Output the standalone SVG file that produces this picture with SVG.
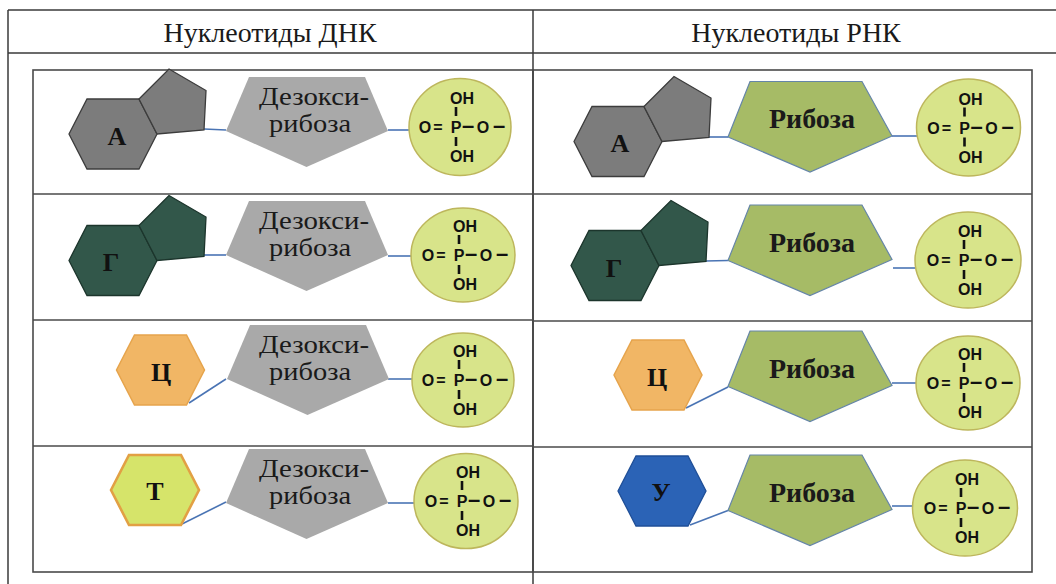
<svg xmlns="http://www.w3.org/2000/svg" width="1056" height="584" viewBox="0 0 1056 584">
<style>
  .grid { stroke: #3a3a3a; stroke-width: 1.5; fill: none; }
  .panel { stroke: #4a4a4a; stroke-width: 1.6; fill: none; }
  .hdr { font-family: "Liberation Serif", "Times New Roman", serif; font-size: 28px; fill: #1a1a1a; text-anchor: middle; }
  .base { font-family: "Liberation Serif", "Times New Roman", serif; font-size: 26px; font-weight: bold; fill: #111; text-anchor: middle; }
  .sug { font-family: "Liberation Serif", "Times New Roman", serif; font-size: 26px; fill: #1a1a1a; text-anchor: middle; }
  .rib { font-family: "Liberation Serif", "Times New Roman", serif; font-size: 28px; font-weight: bold; fill: #1a1a1a; text-anchor: middle; }
  .ph { font-family: "Liberation Sans", Arial, sans-serif; font-size: 16px; font-weight: bold; fill: #111; }
  .phm { text-anchor: middle; }
  .d { font-size: 22px; }
  .bond { stroke: #111; stroke-width: 2.6; }
  .pcirc { fill: #d8e48a; stroke: #bdb65c; stroke-width: 1.5; }
  .gray { fill: #7c7c7c; stroke: #3c3c3c; stroke-width: 1.3; }
  .green { fill: #32574a; stroke: #1c352c; stroke-width: 1.3; }
  .orange { fill: #f1b665; stroke: #e6a44c; stroke-width: 1.5; }
  .thy { fill: #d6e46a; stroke: #e2a044; stroke-width: 2.6; }
  .blue { fill: #2b63b6; stroke: #1f4f98; stroke-width: 1.3; }
  .deoxy { fill: #a9a9a9; }
  .ribose { fill: #a6bb66; stroke: #6585a8; stroke-width: 1.2; }
  .conn line { stroke: #4a74b4; stroke-width: 1.6; }
</style>
<defs>
  <polygon id="hex" points="-44,0 -26,-35 26,-35 44,0 26,35 -26,35"/>
  <polygon id="pent" points="26,-35 56,-65 93,-43.5 91,-4 44,0"/>
  <polygon id="sugL" points="0,0 116,0 139,54 57.5,90 -23,54"/>
  <polygon id="sugR" points="0,0 112,0 142,54.5 60,90.5 -22,55.5"/>
</defs>
<rect width="1056" height="584" fill="#ffffff"/>

<g id="table">
  <line class="grid" x1="8" y1="10" x2="1056" y2="10"/>
  <line class="grid" x1="8" y1="53" x2="1056" y2="53"/>
  <line class="grid" x1="8" y1="10" x2="8" y2="584"/>
  <line class="grid" x1="533" y1="10" x2="533" y2="584"/>
  <rect class="panel" x="33" y="70" width="500" height="502"/>
  <line class="panel" x1="33" y1="194" x2="533" y2="194"/>
  <line class="panel" x1="33" y1="320" x2="533" y2="320"/>
  <line class="panel" x1="33" y1="446" x2="533" y2="446"/>
  <rect class="panel" x="533" y="70" width="499" height="502"/>
  <line class="panel" x1="533" y1="194" x2="1032" y2="194"/>
  <line class="panel" x1="533" y1="321" x2="1032" y2="321"/>
  <line class="panel" x1="533" y1="447" x2="1032" y2="447"/>
</g>

<g id="header-dna"><text class="hdr" x="270" y="42">Нуклеотиды ДНК</text></g>
<g id="header-rna"><text class="hdr" x="796" y="42">Нуклеотиды РНК</text></g>

<g id="connectors" class="conn">
  <line x1="204" y1="129" x2="226" y2="130"/>
  <line x1="388" y1="130" x2="410" y2="130"/>
  <line x1="204" y1="255" x2="226" y2="255"/>
  <line x1="388" y1="256" x2="412" y2="256"/>
  <line x1="189" y1="403" x2="226" y2="379"/>
  <line x1="388" y1="379" x2="413" y2="379"/>
  <line x1="182" y1="524" x2="226" y2="502"/>
  <line x1="388" y1="503" x2="414" y2="503"/>
  <line x1="709" y1="137" x2="728" y2="137"/>
  <line x1="892" y1="136" x2="917" y2="136"/>
  <line x1="705" y1="261" x2="728" y2="260.5"/>
  <line x1="893" y1="268" x2="915" y2="268"/>
  <line x1="686" y1="408" x2="728" y2="387"/>
  <line x1="892" y1="383" x2="916" y2="383"/>
  <line x1="690" y1="525" x2="728" y2="510.5"/>
  <line x1="892" y1="506" x2="913" y2="506"/>
</g>

<!-- DNA row 1 -->
<g id="dna-A">
  <use href="#hex" x="113" y="134" class="gray"/>
  <use href="#pent" x="113" y="134" class="gray"/>
  <text class="base" x="117" y="145">А</text>
</g>
<g id="dna-sugar-1">
  <use href="#sugL" x="249" y="77" class="deoxy"/>
  <text class="sug" x="314" y="105" textLength="110" lengthAdjust="spacingAndGlyphs">Дезокси-</text>
  <text class="sug" x="310" y="132" textLength="82" lengthAdjust="spacingAndGlyphs">рибоза</text>
</g>
<g id="dna-phosphate-1" transform="translate(460,127)">
  <ellipse class="pcirc" cx="0" cy="0" rx="51" ry="48.5"/>
  <text class="ph" x="-10" y="-23">OH</text>
  <line class="bond" x1="-4" y1="-20" x2="-4" y2="-11"/>
  <text class="ph phm" y="6"><tspan x="-35">O</tspan><tspan x="-22">=</tspan><tspan x="-4">P</tspan><tspan class="d" x="8">–</tspan><tspan x="23">O</tspan><tspan class="d" x="39">–</tspan></text>
  <line class="bond" x1="-4" y1="10" x2="-4" y2="19"/>
  <text class="ph" x="-10" y="35">OH</text>
</g>

<!-- DNA row 2 -->
<g id="dna-G">
  <use href="#hex" x="113" y="260.5" class="green"/>
  <use href="#pent" x="113" y="260.5" class="green"/>
  <text class="base" x="111" y="271">Г</text>
</g>
<g id="dna-sugar-2">
  <use href="#sugL" x="249" y="201" class="deoxy"/>
  <text class="sug" x="314" y="229" textLength="110" lengthAdjust="spacingAndGlyphs">Дезокси-</text>
  <text class="sug" x="310" y="256" textLength="82" lengthAdjust="spacingAndGlyphs">рибоза</text>
</g>
<g id="dna-phosphate-2" transform="translate(463,255)">
  <ellipse class="pcirc" cx="0" cy="0" rx="52" ry="47"/>
  <text class="ph" x="-10" y="-23">OH</text>
  <line class="bond" x1="-4" y1="-20" x2="-4" y2="-11"/>
  <text class="ph phm" y="6"><tspan x="-35">O</tspan><tspan x="-22">=</tspan><tspan x="-4">P</tspan><tspan class="d" x="8">–</tspan><tspan x="23">O</tspan><tspan class="d" x="39">–</tspan></text>
  <line class="bond" x1="-4" y1="10" x2="-4" y2="19"/>
  <text class="ph" x="-10" y="35">OH</text>
</g>

<!-- DNA row 3 -->
<g id="dna-C">
  <use href="#hex" x="160.5" y="370" class="orange"/>
  <text class="base" x="161" y="381">Ц</text>
</g>
<g id="dna-sugar-3">
  <use href="#sugL" x="250" y="325" class="deoxy"/>
  <text class="sug" x="314" y="353" textLength="110" lengthAdjust="spacingAndGlyphs">Дезокси-</text>
  <text class="sug" x="310" y="380" textLength="82" lengthAdjust="spacingAndGlyphs">рибоза</text>
</g>
<g id="dna-phosphate-3" transform="translate(463,380)">
  <ellipse class="pcirc" cx="0" cy="0" rx="51" ry="47"/>
  <text class="ph" x="-10" y="-23">OH</text>
  <line class="bond" x1="-4" y1="-20" x2="-4" y2="-11"/>
  <text class="ph phm" y="6"><tspan x="-35">O</tspan><tspan x="-22">=</tspan><tspan x="-4">P</tspan><tspan class="d" x="8">–</tspan><tspan x="23">O</tspan><tspan class="d" x="39">–</tspan></text>
  <line class="bond" x1="-4" y1="10" x2="-4" y2="19"/>
  <text class="ph" x="-10" y="35">OH</text>
</g>

<!-- DNA row 4 -->
<g id="dna-T">
  <use href="#hex" x="155" y="490" class="thy"/>
  <text class="base" x="155" y="500">Т</text>
</g>
<g id="dna-sugar-4">
  <use href="#sugL" x="249" y="449" class="deoxy"/>
  <text class="sug" x="314" y="477" textLength="110" lengthAdjust="spacingAndGlyphs">Дезокси-</text>
  <text class="sug" x="310" y="504" textLength="82" lengthAdjust="spacingAndGlyphs">рибоза</text>
</g>
<g id="dna-phosphate-4" transform="translate(466,501)">
  <ellipse class="pcirc" cx="0" cy="0" rx="52" ry="47.5"/>
  <text class="ph" x="-10" y="-23">OH</text>
  <line class="bond" x1="-4" y1="-20" x2="-4" y2="-11"/>
  <text class="ph phm" y="6"><tspan x="-35">O</tspan><tspan x="-22">=</tspan><tspan x="-4">P</tspan><tspan class="d" x="8">–</tspan><tspan x="23">O</tspan><tspan class="d" x="39">–</tspan></text>
  <line class="bond" x1="-4" y1="10" x2="-4" y2="19"/>
  <text class="ph" x="-10" y="35">OH</text>
</g>

<!-- RNA row 1 -->
<g id="rna-A">
  <use href="#hex" x="618" y="141.5" class="gray"/>
  <use href="#pent" x="618" y="141.5" class="gray"/>
  <text class="base" x="620" y="152">А</text>
</g>
<g id="rna-sugar-1">
  <use href="#sugR" x="750" y="81.5" class="ribose"/>
  <text class="rib" x="812" y="128">Рибоза</text>
</g>
<g id="rna-phosphate-1" transform="translate(968.5,127.5)">
  <ellipse class="pcirc" cx="0" cy="0" rx="52" ry="48.5"/>
  <text class="ph" x="-10" y="-23">OH</text>
  <line class="bond" x1="-4" y1="-20" x2="-4" y2="-11"/>
  <text class="ph phm" y="6"><tspan x="-35">O</tspan><tspan x="-22">=</tspan><tspan x="-4">P</tspan><tspan class="d" x="8">–</tspan><tspan x="23">O</tspan><tspan class="d" x="39">–</tspan></text>
  <line class="bond" x1="-4" y1="10" x2="-4" y2="19"/>
  <text class="ph" x="-10" y="35">OH</text>
</g>

<!-- RNA row 2 -->
<g id="rna-G">
  <use href="#hex" x="615" y="265.5" class="green"/>
  <use href="#pent" x="615" y="265.5" class="green"/>
  <text class="base" x="614" y="277">Г</text>
</g>
<g id="rna-sugar-2">
  <use href="#sugR" x="750" y="205" class="ribose"/>
  <text class="rib" x="812" y="251.5">Рибоза</text>
</g>
<g id="rna-phosphate-2" transform="translate(968,260)">
  <ellipse class="pcirc" cx="0" cy="0" rx="53" ry="48"/>
  <text class="ph" x="-10" y="-23">OH</text>
  <line class="bond" x1="-4" y1="-20" x2="-4" y2="-11"/>
  <text class="ph phm" y="6"><tspan x="-35">O</tspan><tspan x="-22">=</tspan><tspan x="-4">P</tspan><tspan class="d" x="8">–</tspan><tspan x="23">O</tspan><tspan class="d" x="39">–</tspan></text>
  <line class="bond" x1="-4" y1="10" x2="-4" y2="19"/>
  <text class="ph" x="-10" y="35">OH</text>
</g>

<!-- RNA row 3 -->
<g id="rna-C">
  <use href="#hex" x="658" y="375" class="orange"/>
  <text class="base" x="657" y="386">Ц</text>
</g>
<g id="rna-sugar-3">
  <use href="#sugR" x="750" y="331" class="ribose"/>
  <text class="rib" x="812" y="377.5">Рибоза</text>
</g>
<g id="rna-phosphate-3" transform="translate(968,383)">
  <ellipse class="pcirc" cx="0" cy="0" rx="52" ry="47"/>
  <text class="ph" x="-10" y="-23">OH</text>
  <line class="bond" x1="-4" y1="-20" x2="-4" y2="-11"/>
  <text class="ph phm" y="6"><tspan x="-35">O</tspan><tspan x="-22">=</tspan><tspan x="-4">P</tspan><tspan class="d" x="8">–</tspan><tspan x="23">O</tspan><tspan class="d" x="39">–</tspan></text>
  <line class="bond" x1="-4" y1="10" x2="-4" y2="19"/>
  <text class="ph" x="-10" y="35">OH</text>
</g>

<!-- RNA row 4 -->
<g id="rna-U">
  <use href="#hex" x="662" y="491" class="blue"/>
  <text class="base" x="661" y="501">У</text>
</g>
<g id="rna-sugar-4">
  <use href="#sugR" x="750" y="455" class="ribose"/>
  <text class="rib" x="812" y="501.5">Рибоза</text>
</g>
<g id="rna-phosphate-4" transform="translate(965,508)">
  <ellipse class="pcirc" cx="0" cy="0" rx="52.5" ry="48"/>
  <text class="ph" x="-10" y="-23">OH</text>
  <line class="bond" x1="-4" y1="-20" x2="-4" y2="-11"/>
  <text class="ph phm" y="6"><tspan x="-35">O</tspan><tspan x="-22">=</tspan><tspan x="-4">P</tspan><tspan class="d" x="8">–</tspan><tspan x="23">O</tspan><tspan class="d" x="39">–</tspan></text>
  <line class="bond" x1="-4" y1="10" x2="-4" y2="19"/>
  <text class="ph" x="-10" y="35">OH</text>
</g>
</svg>
